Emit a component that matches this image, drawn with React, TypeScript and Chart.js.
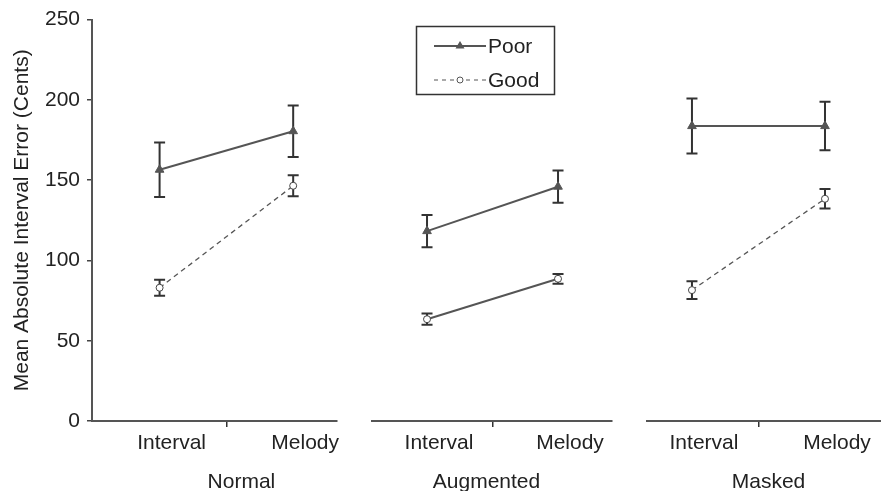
import React, { useEffect, useRef } from 'react';
import { Chart, registerables } from 'chart.js';

Chart.register(...registerables);

// ---- data ----
const categories = ['Interval', 'Melody'];
const groups = ['Normal', 'Augmented', 'Masked'];
const seriesNames = ['Poor', 'Good'];
const poorMeans = [[156.5, 180.5], [117.5, 145], [182.5, 182.5]];
const poorErrors = [[17, 16], [10, 10], [17, 15]];
const goodMeans = [[83, 146.5], [63, 88], [81, 137.5]];
const goodErrors = [[5, 6.5], [3.5, 3], [5.5, 6]];
const yTicks = [0, 50, 100, 150, 200, 250];
const yTitle = 'Mean Absolute Interval Error (Cents)';

// ---- layout / style ----
const W = 881;
const H = 491;
const PLOT_TOP = 17;
const PLOT_BOTTOM = 421;
const FONT = "'Liberation Sans', Arial, Helvetica, sans-serif";
const TEXT = '#222';
const LINE = '#555';
const PANELS = [
  { left: 92, right: 337, min: -0.506, max: 1.328, labelShift: 15, goodDash: [5, 4] },
  { left: 372, right: 612, min: -0.42, max: 1.412, labelShift: -6, goodDash: [] as number[] },
  { left: 647, right: 881, min: -0.338, max: 1.421, labelShift: 10, goodDash: [5, 4] },
];

const errorBarPlugin = {
  id: 'errorBars',
  beforeDatasetsDraw(chart: any) {
    const { ctx } = chart;
    const xs = chart.scales.x;
    const ys = chart.scales.y;
    ctx.save();
    ctx.strokeStyle = '#333';
    ctx.lineWidth = 2;
    ctx.setLineDash([]);
    chart.data.datasets.forEach((ds: any) => {
      ds.data.forEach((p: any, j: number) => {
        const e = ds.errors[j];
        const px = xs.getPixelForValue(p.x);
        const t = ys.getPixelForValue(p.y + e);
        const b = ys.getPixelForValue(p.y - e);
        ctx.beginPath();
        ctx.moveTo(px, t);
        ctx.lineTo(px, b);
        ctx.moveTo(px - 5.5, t);
        ctx.lineTo(px + 5.5, t);
        ctx.moveTo(px - 5.5, b);
        ctx.lineTo(px + 5.5, b);
        ctx.stroke();
      });
    });
    ctx.restore();
  },
};

const groupLabelPlugin = {
  id: 'groupLabel',
  afterDraw(chart: any, _args: any, opts: any) {
    const { ctx } = chart;
    const xs = chart.scales.x;
    ctx.save();
    ctx.font = `21px ${FONT}`;
    ctx.fillStyle = TEXT;
    ctx.textAlign = 'center';
    ctx.textBaseline = 'alphabetic';
    ctx.fillText(opts.text, xs.getPixelForValue(0.5) + opts.shift, 488);
    ctx.restore();
  },
};

const boxLegendPlugin = {
  id: 'boxLegend',
  afterDraw(chart: any, _args: any, opts: any) {
    if (!opts.show) return;
    const { ctx } = chart;
    ctx.save();
    ctx.strokeStyle = '#333';
    ctx.lineWidth = 1.5;
    ctx.strokeRect(416.5, 26.5, 138, 68);
    const rows = [46, 80];
    // Poor sample
    ctx.strokeStyle = LINE;
    ctx.lineWidth = 2;
    ctx.beginPath();
    ctx.moveTo(434, rows[0]);
    ctx.lineTo(486, rows[0]);
    ctx.stroke();
    ctx.fillStyle = LINE;
    ctx.beginPath();
    ctx.moveTo(460, rows[0] - 5);
    ctx.lineTo(464.5, rows[0] + 2.5);
    ctx.lineTo(455.5, rows[0] + 2.5);
    ctx.closePath();
    ctx.fill();
    // Good sample
    ctx.lineWidth = 1.2;
    ctx.setLineDash([4, 4]);
    ctx.beginPath();
    ctx.moveTo(434, rows[1]);
    ctx.lineTo(486, rows[1]);
    ctx.stroke();
    ctx.setLineDash([]);
    ctx.fillStyle = '#fff';
    ctx.beginPath();
    ctx.arc(460, rows[1], 3, 0, Math.PI * 2);
    ctx.fill();
    ctx.lineWidth = 1;
    ctx.stroke();
    ctx.font = `21px ${FONT}`;
    ctx.fillStyle = TEXT;
    ctx.textAlign = 'left';
    ctx.textBaseline = 'middle';
    ctx.fillText(seriesNames[0], 488, rows[0] + 1);
    ctx.fillText(seriesNames[1], 488, rows[1] + 1);
    ctx.restore();
  },
};

function Panel({ index }: { index: number }) {
  const ref = useRef<HTMLCanvasElement>(null);
  useEffect(() => {
    const cfg = PANELS[index];
    const chart = new Chart(ref.current as HTMLCanvasElement, {
      type: 'line',
      data: {
        datasets: [
          {
            label: seriesNames[0],
            data: categories.map((_, j) => ({ x: j, y: poorMeans[index][j] })),
            errors: poorErrors[index],
            borderColor: LINE,
            borderWidth: 2,
            pointStyle: 'triangle',
            pointRadius: 5,
            pointBackgroundColor: LINE,
            pointBorderColor: LINE,
            pointBorderWidth: 1,
            clip: false,
          } as any,
          {
            label: seriesNames[1],
            data: categories.map((_, j) => ({ x: j, y: goodMeans[index][j] })),
            errors: goodErrors[index],
            borderColor: LINE,
            borderWidth: cfg.goodDash.length ? 1.3 : 2,
            borderDash: cfg.goodDash,
            pointStyle: 'circle',
            pointRadius: 3.5,
            pointBackgroundColor: '#fff',
            pointBorderColor: '#444',
            pointBorderWidth: 1,
            clip: false,
          } as any,
        ],
      },
      options: {
        animation: false,
        responsive: false,
        events: [],
        layout: {
          autoPadding: false,
          padding: {
            left: index === 0 ? 0 : cfg.left,
            right: W - cfg.right,
            top: PLOT_TOP,
            bottom: 0,
          },
        },
        font: { family: FONT, size: 21 },
        plugins: {
          legend: { display: false },
          tooltip: { enabled: false },
          groupLabel: { text: groups[index], shift: cfg.labelShift },
          boxLegend: { show: index === 1 },
        } as any,
        scales: {
          x: {
            type: 'linear',
            min: cfg.min,
            max: cfg.max,
            afterBuildTicks: (s: any) => {
              s.ticks = [{ value: 0 }, { value: 0.5 }, { value: 1 }];
            },
            afterFit: (s: any) => {
              s.height = H - PLOT_BOTTOM;
              s.paddingLeft = 0;
              s.paddingRight = 0;
            },
            ticks: {
              autoSkip: false,
              maxRotation: 0,
              padding: 4,
              labelOffset: 12,
              color: TEXT,
              font: { family: FONT, size: 21 },
              callback: (v: any) => (v === 0 ? categories[0] : v === 1 ? categories[1] : ''),
            },
            grid: {
              drawOnChartArea: false,
              drawTicks: true,
              tickLength: 6,
              lineWidth: 1.5,
              color: (c: any) => (c.tick && c.tick.value === 0.5 ? '#333' : 'rgba(0,0,0,0)'),
            },
            border: { display: true, color: LINE, width: 2 },
          },
          y: {
            display: index === 0,
            min: 0,
            max: 250,
            afterBuildTicks: (s: any) => {
              s.ticks = yTicks.map((v) => ({ value: v }));
            },
            afterFit: (s: any) => {
              s.width = index === 0 ? cfg.left : 0;
            },
            ticks: {
              padding: 7,
              color: TEXT,
              font: { family: FONT, size: 21 },
            },
            grid: {
              drawOnChartArea: false,
              drawTicks: true,
              tickLength: 5,
              lineWidth: 1.5,
              color: '#444',
            },
            border: { display: true, color: LINE, width: 2 },
            title: {
              display: true,
              text: yTitle,
              color: TEXT,
              font: { family: FONT, size: 21 },
              padding: { top: 10, bottom: 0 },
            },
          },
        },
      } as any,
      plugins: [errorBarPlugin, groupLabelPlugin, boxLegendPlugin] as any,
    });
    return () => chart.destroy();
  }, [index]);
  return (
    <canvas
      ref={ref}
      width={W}
      height={H}
      style={{ position: 'absolute', left: 0, top: 0, width: W, height: H }}
    />
  );
}

export default function App() {
  return (
    <div
      style={{
        position: 'fixed',
        left: 0,
        top: 0,
        width: W,
        height: H,
        background: '#fff',
        overflow: 'hidden',
      }}
    >
      {PANELS.map((_, i) => (
        <Panel key={i} index={i} />
      ))}
    </div>
  );
}
